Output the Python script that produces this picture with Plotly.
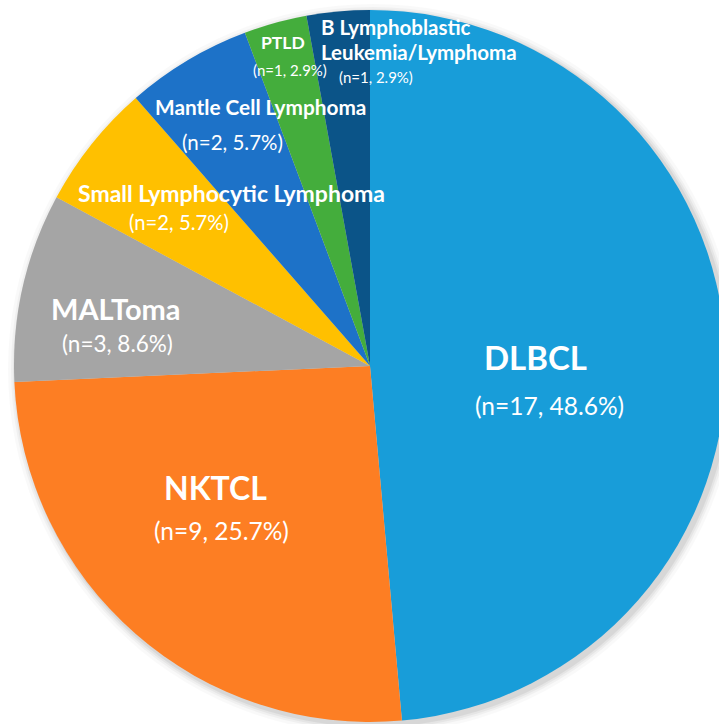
import plotly.graph_objects as go

# ---- data ----
categories = ["DLBCL", "NKTCL", "MALToma", "Small Lymphocytic Lymphoma",
              "Mantle Cell Lymphoma", "PTLD", "B Lymphoblastic Leukemia/Lymphoma"]
counts = [17, 9, 3, 2, 2, 1, 1]
percents = [48.6, 25.7, 8.6, 5.7, 5.7, 2.9, 2.9]
colors = ["#189DD9", "#FD7E23", "#A5A5A5", "#FFC000", "#1D72C8", "#44AD3C", "#0B5488"]

# figure is slightly wider than the 719px window so the pie's right edge is cut, as in the original
W, H = 726, 724
CX, CY, R = 370, 366, 356

fig = go.Figure(go.Pie(
    labels=categories,
    values=counts,
    sort=False,
    direction="clockwise",
    rotation=0,
    marker=dict(colors=colors, line=dict(width=0)),
    textinfo="none",
    hoverinfo="none",
    showlegend=False,
    domain=dict(x=[(CX - R) / W, (CX + R) / W], y=[1 - (CY + R) / H, 1 - (CY - R) / H]),
))

# soft shadow behind the pie
shapes = []
for grow, op in [(9, 0.025), (6, 0.035), (4, 0.045), (2, 0.06)]:
    shapes.append(dict(type="circle", xref="paper", yref="paper", layer="below",
                       x0=(CX - R - grow + 3) / W, x1=(CX + R + grow + 3) / W,
                       y0=1 - (CY + R + grow + 3) / H, y1=1 - (CY - R - grow + 3) / H,
                       fillcolor=f"rgba(0,0,0,{op})", line=dict(width=0)))

FONT = "Lato"

def ann(text, px, py, size, bold=False, xanchor="center"):
    t = f"<b>{text}</b>" if bold else text
    return dict(text=t, x=px / W, y=1 - py / H, xref="paper", yref="paper",
                xanchor=xanchor, yanchor="middle", showarrow=False,
                font=dict(family=FONT, size=size, color="white"))

def detail(i):
    return f"(n={counts[i]}, {percents[i]}%)"

b_words = categories[6].split(" ")
annotations = [
    ann(categories[0], 535, 357, 33, bold=True),
    ann(detail(0), 549, 405, 24.5),
    ann(categories[1], 215, 487, 32, bold=True),
    ann(detail(1), 221, 530, 24.5),
    ann(categories[2], 116, 308, 29, bold=True),
    ann(detail(2), 117, 343, 22.5),
    ann(categories[3], 231, 193, 23, bold=True),
    ann(detail(3), 179, 222, 20.3),
    ann(categories[4], 260, 107, 20.8, bold=True),
    ann(detail(4), 232, 142, 20.5),
    ann(categories[5], 283, 42, 17.5, bold=True),
    ann(detail(5), 290, 70, 15),
    ann(" ".join(b_words[:2]), 319, 27, 20.5, bold=True, xanchor="left"),
    ann(" ".join(b_words[2:]), 319, 52, 20.5, bold=True, xanchor="left"),
    ann(detail(6), 376, 77, 15),
]

fig.update_layout(
    width=W, height=H,
    margin=dict(l=0, r=0, t=0, b=0),
    paper_bgcolor="white", plot_bgcolor="white",
    shapes=shapes, annotations=annotations,
)

fig.write_html("out.html", config={"displayModeBar": False},
               post_script="document.body.style.margin='0';document.body.style.overflow='hidden';")
